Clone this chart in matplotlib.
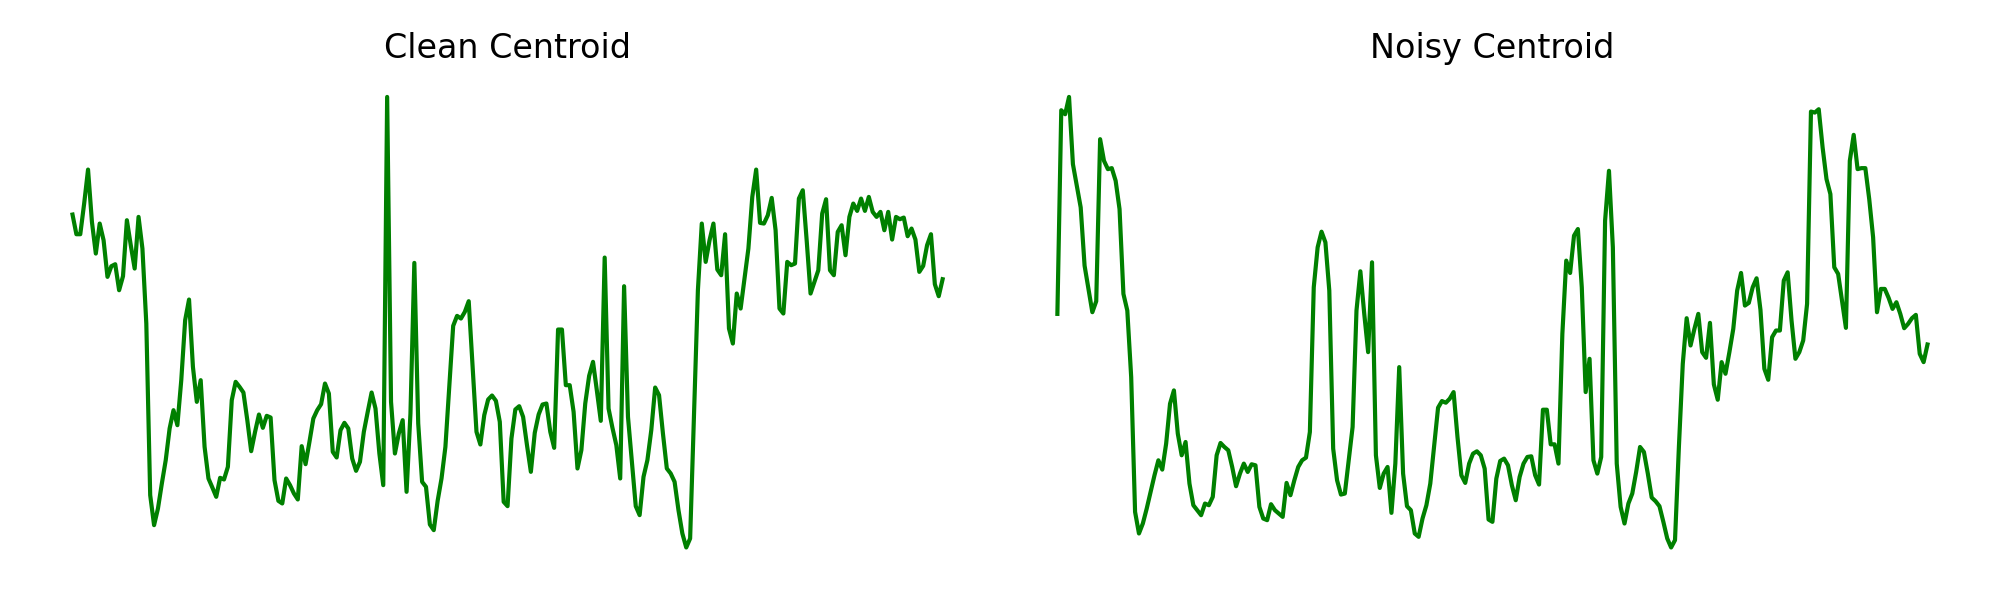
import numpy as np
import matplotlib
matplotlib.use("Agg")
from matplotlib import pyplot as plt

# spectral centroid per frame (arbitrary units)
clean_centroid = [
    1047, 988, 988, 1080, 1182, 1025, 930, 1020, 970, 860,
    892, 898, 820, 862, 1030, 955, 885, 1040, 945, 720,
    205, 115, 165, 240, 310, 405, 460, 415, 550, 730,
    792, 590, 485, 550, 350, 255, 228, 200, 257, 252,
    290, 490, 545, 530, 513, 430, 337, 395, 447, 407,
    443, 438, 250, 188, 180, 255, 235, 210, 192, 352,
    298, 365, 435, 460, 478, 540, 510, 335, 318, 400,
    422, 405, 315, 278, 305, 395, 455, 513, 465, 330,
    235, 1400, 485, 330, 390, 430, 215, 450, 902, 420,
    245, 230, 117, 100, 188, 255, 350, 530, 713, 743,
    735, 755, 787, 590, 395, 357, 445, 492, 504, 488,
    425, 185, 172, 375, 462, 472, 440, 355, 275, 392,
    447, 477, 480, 395, 347, 702, 702, 535, 535, 455,
    285, 340, 480, 563, 605, 518, 428, 918, 465, 407,
    355, 255, 832, 440, 305, 172, 145, 260, 310, 400,
    528, 505, 390, 285, 270, 245, 160, 90, 48, 75,
    450, 820, 1020, 905, 970, 1020, 882, 865, 988, 705,
    660, 810, 765, 855, 945, 1100, 1182, 1022, 1020, 1045,
    1097, 1000, 765, 750, 905, 895, 900, 1095, 1120, 970,
    810, 845, 880, 1050, 1093, 880, 865, 995, 1015, 925,
    1040, 1080, 1058, 1095, 1058, 1100, 1055, 1040, 1055, 1000,
    1055, 972, 1040, 1033, 1038, 982, 1005, 972, 875, 893,
    955, 988, 838, 802, 853,
]

noisy_centroid = [
    750, 1362, 1350, 1402, 1200, 1135, 1070, 895, 825, 755,
    788, 1275, 1210, 1185, 1188, 1150, 1065, 810, 760, 560,
    155, 90, 120, 165, 215, 265, 310, 282, 360, 480,
    520, 390, 325, 365, 240, 175, 160, 145, 180, 175,
    200, 325, 362, 350, 340, 290, 232, 270, 300, 275,
    298, 295, 170, 135, 130, 178, 160, 150, 140, 242,
    205, 250, 290, 310, 318, 395, 830, 950, 997, 965,
    820, 345, 250, 207, 210, 310, 410, 760, 878, 750,
    635, 905, 325, 227, 270, 290, 152, 300, 590, 270,
    172, 160, 90, 80, 135, 175, 240, 355, 468, 488,
    483, 495, 515, 380, 265, 242, 300, 330, 337, 325,
    285, 132, 125, 255, 308, 315, 295, 235, 190, 260,
    300, 320, 322, 265, 237, 462, 462, 358, 358, 300,
    690, 910, 873, 985, 1005, 830, 515, 615, 310, 270,
    320, 1030, 1180, 950, 300, 170, 120, 180, 210, 275,
    350, 335, 270, 198, 187, 172, 125, 75, 48, 70,
    350, 600, 737, 655, 705, 750, 635, 618, 723, 538,
    492, 605, 570, 635, 705, 820, 873, 775, 783, 830,
    857, 762, 585, 552, 680, 700, 700, 850, 875, 730,
    615, 635, 670, 780, 1358, 1355, 1365, 1250, 1155, 1110,
    890, 870, 790, 708, 1210, 1288, 1185, 1188, 1188, 1095,
    980, 755, 825, 825, 798, 765, 785, 750, 707, 720,
    737, 747, 630, 605, 658,
]

titles = ["Clean Centroid", "Noisy Centroid"]


def main():
    fig, axs = plt.subplots(1, 2, figsize=(20, 6), dpi=100)
    plt.subplots_adjust(left=0.0145, right=0.9855, bottom=0.05, top=0.876, wspace=0.029)

    for ax, series, title in zip(axs, (clean_centroid, noisy_centroid), titles):
        frames = np.arange(len(series))
        ax.plot(frames, series, color="green", linewidth=3)
        ax.set_title(title, fontsize=24, pad=12)
        ax.axis("off")

    plt.savefig("out.png")


if __name__ == "__main__":
    main()
